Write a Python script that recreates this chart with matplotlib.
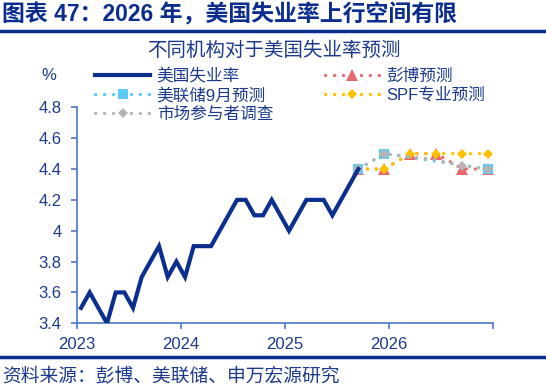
import numpy as np
import matplotlib
matplotlib.use("Agg")
import matplotlib.pyplot as plt
from matplotlib.lines import Line2D

plt.rcParams['font.family'] = ['Liberation Sans', 'Noto Sans CJK SC', 'DejaVu Sans']

# ---- data -------------------------------------------------------------
# monthly US unemployment rate, Jan 2023 .. Sep 2025 (index 0 = Jan 2023)
actual_vals = [3.5, 3.6, 3.5, 3.4, 3.6, 3.6, 3.5, 3.7, 3.8, 3.9, 3.7, 3.8,
               3.7, 3.9, 3.9, 3.9, 4.0, 4.1, 4.2, 4.2, 4.1, 4.1, 4.2, 4.1,
               4.0, 4.1, 4.2, 4.2, 4.2, 4.1, 4.2, 4.3, 4.4]
actual_idx = list(range(len(actual_vals)))

# quarterly forecast points (month index): 25Q3 .. 26Q4
fc_idx = [32, 35, 38, 41, 44, 47]
bbg_vals = [4.4, 4.4, 4.5, 4.5, 4.4, 4.4]
spf_vals = [4.4, 4.4, 4.5, 4.5, 4.5, 4.5]
mkt_vals = [4.4, 4.5, 4.48, 4.46, 4.42, 4.4]
fed_idx = [32, 35, 47]
fed_vals = [4.4, 4.5, 4.4]

year_ticks = [-0.5, 11.5, 23.5, 35.5, 47.5]
year_labels = ['2023', '2024', '2025', '2026', '']
y_ticks = [3.4, 3.6, 3.8, 4.0, 4.2, 4.4, 4.6, 4.8]
y_labels = ['3.4', '3.6', '3.8', '4', '4.2', '4.4', '4.6', '4.8']

# ---- style ------------------------------------------------------------
NAVY = '#0A2F8F'
TXT = '#1B3A8C'
AXC = '#4A78C8'
RED = '#E8696C'
CYAN = '#5CCBF5'
ORANGE = '#FFC000'
GRAY = '#B4B4B4'

W, H = 546, 391
fig = plt.figure(figsize=(W / 100, H / 100), dpi=100)

def fx(px):
    return px / W

def fy(py):
    return 1 - py / H

ax = fig.add_axes([fx(76.7), fy(323.3), fx(492.7) - fx(76.7), fy(107.3) - fy(323.3)])

dot = (0, (0.1, 2.7))
kw = dict(linestyle=dot, linewidth=2.3, dash_capstyle='round')

l_bbg, = ax.plot(fc_idx, bbg_vals, color=RED, marker='^', markersize=8.5,
                 markeredgewidth=0, zorder=2, **kw)
l_spf, = ax.plot(fc_idx, spf_vals, color=ORANGE, marker='D', markersize=5.5,
                 markeredgewidth=0, zorder=3, **kw)
l_fed, = ax.plot(fed_idx, fed_vals, color=CYAN, marker='s', markersize=7.5,
                 markeredgewidth=0, zorder=4, **kw)
l_mkt, = ax.plot(fc_idx, mkt_vals, color=GRAY, marker='D', markersize=5.5,
                 markeredgewidth=0, markevery=[0, 1, 4, 5], zorder=5, **kw)
l_act, = ax.plot(actual_idx, actual_vals, color=NAVY, linewidth=3,
                 solid_joinstyle='miter', zorder=6)

ax.set_xlim(-0.5, 47.5)
ax.set_ylim(3.4, 4.8)
ax.set_xticks(year_ticks)
ax.set_xticklabels(year_labels)
ax.set_yticks(y_ticks)
ax.set_yticklabels(y_labels)

for s in ['top', 'right']:
    ax.spines[s].set_visible(False)
for s in ['left', 'bottom']:
    ax.spines[s].set_color(AXC)
    ax.spines[s].set_linewidth(1.2)
ax.tick_params(axis='both', colors=AXC, labelcolor=TXT, labelsize=12,
               length=4, width=1.2, direction='out')
ax.tick_params(axis='y', pad=7)
ax.tick_params(axis='x', pad=6)
ax.patch.set_alpha(0)

handles = [l_act, l_fed, l_mkt, l_bbg, l_spf]
labels = ['美国失业率', '美联储9月预测', '市场参与者调查', '彭博预测', 'SPF专业预测']
leg = fig.legend(handles, labels, ncol=2, loc='upper left',
                 bbox_to_anchor=(fx(95), fy(68)), frameon=False, fontsize=12,
                 handlelength=3.3, handletextpad=0.4, columnspacing=3.1,
                 labelspacing=0.2, borderpad=0, borderaxespad=0, numpoints=1)
for t in leg.get_texts():
    t.set_color(TXT)

fig.text(fx(274), fy(51), '不同机构对于美国失业率预测', ha='center', va='center',
         fontsize=14, color=TXT)
fig.text(fx(49), fy(76), '%', ha='center', va='center', fontsize=12, color=TXT)

# header / footer
fig.text(fx(2), fy(15), '图表 47：2026 年，美国失业率上行空间有限', ha='left',
         va='center', fontsize=16.5, fontweight='bold', color='#0A2D8E')
fig.add_artist(Line2D([0, 1], [fy(31), fy(31)], color='#0A2D8E', linewidth=2.5,
                      transform=fig.transFigure))
fig.add_artist(Line2D([0, 1], [fy(357), fy(357)], color='#0A2D8E', linewidth=2.5,
                      transform=fig.transFigure))
fig.text(fx(2), fy(377), '资料来源：彭博、美联储、申万宏源研究', ha='left',
         va='center', fontsize=13.5, color=TXT)

fig.savefig('out.png', dpi=100)
